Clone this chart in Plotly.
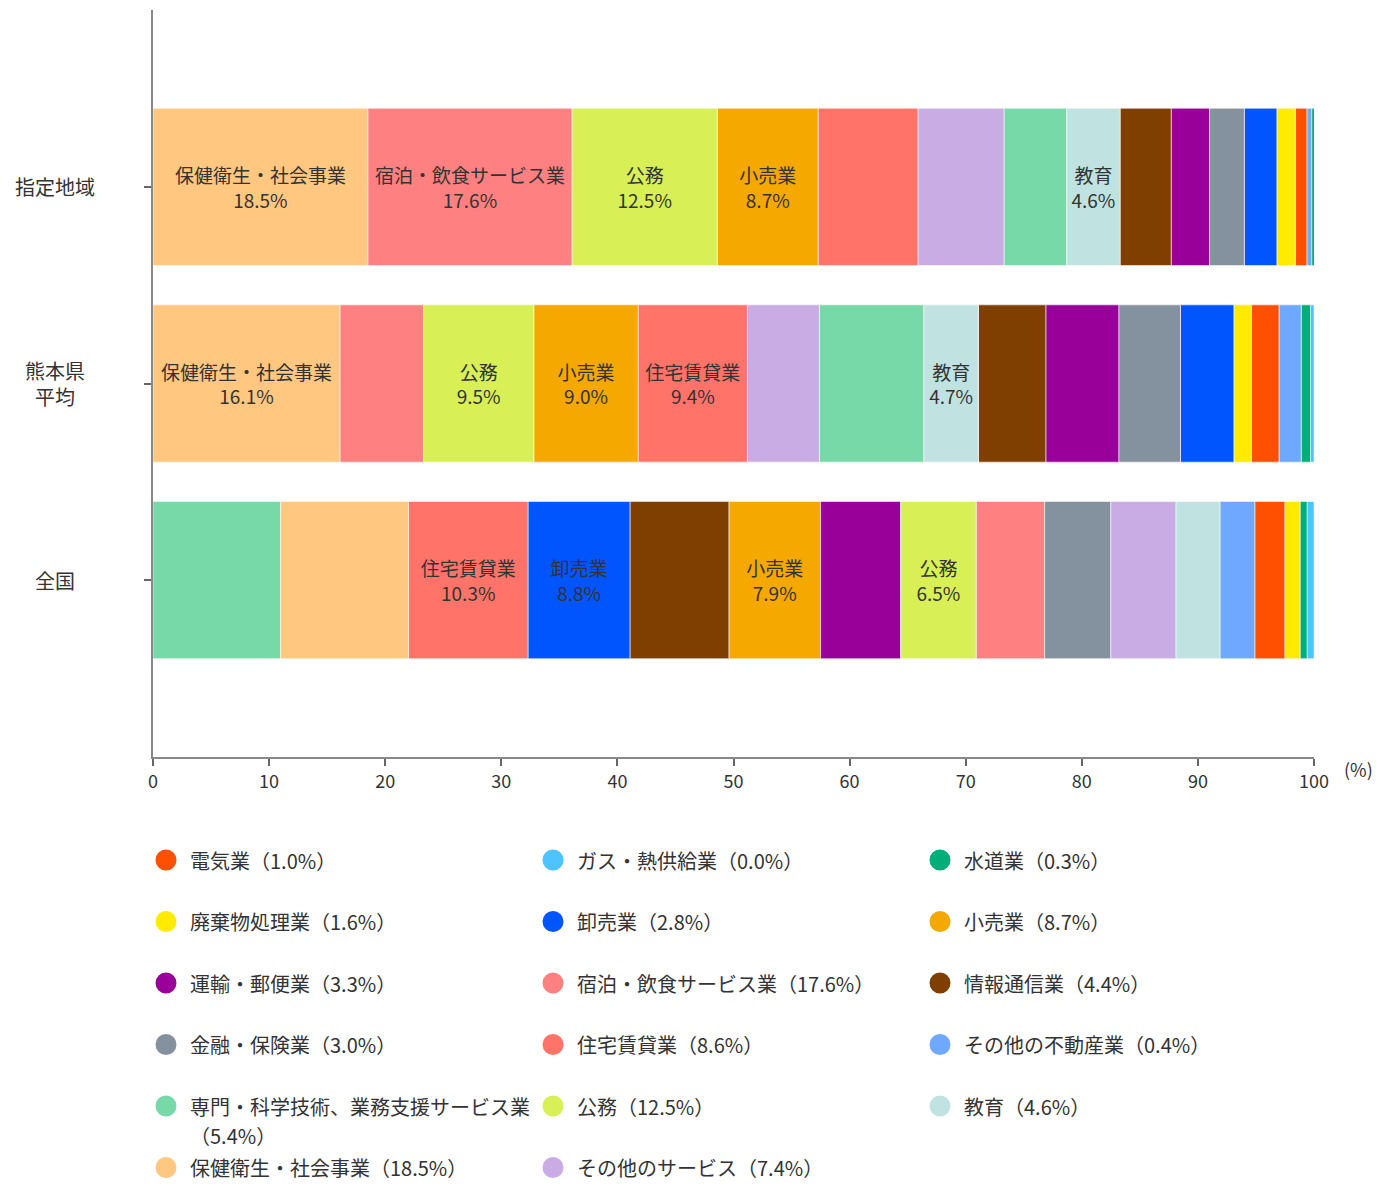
import plotly.graph_objects as go

# ---------------- data ----------------
rows = ["指定地域", "熊本県平均", "全国"]
row_labels = ["指定地域", "熊本県<br>平均", "全国"]

industries = [
    "電気業", "ガス・熱供給業", "水道業",
    "廃棄物処理業", "卸売業", "小売業",
    "運輸・郵便業", "宿泊・飲食サービス業", "情報通信業",
    "金融・保険業", "住宅賃貸業", "その他の不動産業",
    "専門・科学技術、業務支援サービス業", "公務", "教育",
    "保健衛生・社会事業", "その他のサービス",
]
colors = [
    "#ff4f00", "#4dc3ff", "#00ae78",
    "#ffea00", "#0055ff", "#f5a800",
    "#990099", "#ff8080", "#7f3f00",
    "#84919e", "#ff7369", "#6ea8ff",
    "#78d9a8", "#d8f055", "#c0e3e1",
    "#ffc77f", "#c9ace4",
]
shitei = [1.0, 0.0, 0.3, 1.6, 2.8, 8.7, 3.3, 17.6, 4.4, 3.0, 8.6, 0.4, 5.4, 12.5, 4.6, 18.5, 7.4]
kumamoto = [2.4, 0.3, 0.8, 1.5, 4.6, 9.0, 6.3, 7.2, 5.8, 5.3, 9.4, 1.9, 9.0, 9.5, 4.7, 16.1, 6.2]
zenkoku = [2.6, 0.6, 0.6, 1.3, 8.8, 7.9, 6.9, 5.9, 8.5, 5.7, 10.3, 3.0, 11.0, 6.5, 3.8, 11.0, 5.6]

# stacking order of segments in each bar
order_main = ["保健衛生・社会事業", "宿泊・飲食サービス業", "公務", "小売業", "住宅賃貸業",
              "その他のサービス", "専門・科学技術、業務支援サービス業", "教育", "情報通信業",
              "運輸・郵便業", "金融・保険業", "卸売業", "廃棄物処理業", "電気業",
              "その他の不動産業", "水道業", "ガス・熱供給業"]
order_zenkoku = ["専門・科学技術、業務支援サービス業", "保健衛生・社会事業", "住宅賃貸業", "卸売業",
                 "情報通信業", "小売業", "運輸・郵便業", "公務", "宿泊・飲食サービス業",
                 "金融・保険業", "その他のサービス", "教育", "その他の不動産業", "電気業",
                 "廃棄物処理業", "水道業", "ガス・熱供給業"]
orders = [order_main, order_main, order_zenkoku]

# segments that carry a text label in each bar
labeled = [
    ["保健衛生・社会事業", "宿泊・飲食サービス業", "公務", "小売業", "教育"],
    ["保健衛生・社会事業", "公務", "小売業", "住宅賃貸業", "教育"],
    ["住宅賃貸業", "卸売業", "小売業", "公務"],
]

x_ticks = [0, 10, 20, 30, 40, 50, 60, 70, 80, 90, 100]

# ---------------- figure ----------------
FONT = "Noto Sans CJK JP, Noto Sans, sans-serif"
TXT = "#333333"
values = [shitei, kumamoto, zenkoku]

# start position of each segment in each row
bases = []
for r in range(3):
    start = {}
    acc = 0.0
    for name in orders[r]:
        start[name] = acc
        acc += values[r][industries.index(name)]
    bases.append(start)

fig = go.Figure()
for i, name in enumerate(industries):
    xs = [values[r][i] for r in range(3)]
    bs = [bases[r][name] for r in range(3)]
    txt = [f"{name}<br>{values[r][i]:.1f}%" if name in labeled[r] else "" for r in range(3)]
    fig.add_trace(go.Bar(
        y=rows, x=xs, base=bs, orientation="h", width=0.8,
        marker=dict(color=colors[i], line=dict(color="rgba(255,255,255,0.55)", width=1)),
        text=txt, textposition="inside", insidetextanchor="middle", textangle=0,
        textfont=dict(family=FONT, size=19, color=TXT),
        constraintext="none",
        showlegend=False, name=name, hoverinfo="skip",
    ))

# legend entries (circle markers)
n_last_row = len(industries) - (len(industries) - 1) % 3 - 1
for i, name in enumerate(industries):
    label = f"{name}（{shitei[i]:.1f}%）"
    if name.startswith("専門"):
        txt = (f"<span style='font-size:20px'>{name}</span><br>"
               f"<span style='font-size:20px'>（{shitei[i]:.1f}%）</span>")
    elif i >= n_last_row:
        txt = f"<span style='font-size:20px'>{label}</span>"
    else:
        txt = f"<span style='font-size:20px'>{label}</span><br> "
    fig.add_trace(go.Scatter(
        x=[None], y=[None], mode="markers", name=txt,
        marker=dict(symbol="circle", size=26, color=colors[i],
                    line=dict(color=colors[i], width=5)),
        showlegend=True, hoverinfo="skip",
    ))

# y category labels (centered)
for r, lab in enumerate(row_labels):
    fig.add_annotation(x=-0.0844, xref="paper", y=rows[r], yref="y",
                       text=lab, showarrow=False, xanchor="center", yanchor="middle",
                       font=dict(family=FONT, size=20, color=TXT))

fig.add_annotation(x=1.024, xref="paper", y=-0.016, yref="paper", text="(%)",
                   showarrow=False, xanchor="left", yanchor="middle",
                   font=dict(family=FONT, size=18, color=TXT))

fig.update_layout(
    width=1372, height=1178,
    margin=dict(l=145, r=66, t=2, b=429, autoexpand=False),
    paper_bgcolor="white", plot_bgcolor="white",
    barmode="overlay",
    font=dict(family=FONT, size=18, color=TXT),
    xaxis=dict(range=[0, 100], tickvals=x_ticks, ticks="outside", ticklen=7,
               tickcolor="#666", tickwidth=1.5, showgrid=False, zeroline=False,
               showline=True, linecolor="#888", linewidth=2,
               tickfont=dict(family=FONT, size=18, color=TXT)),
    yaxis=dict(type="category", categoryarray=rows, categoryorder="array",
               range=[2.9, -0.9], showticklabels=False, ticks="outside", ticklen=7,
               tickcolor="#666", tickwidth=1.5, showgrid=False, zeroline=False,
               showline=True, linecolor="#888", linewidth=2),
    legend=dict(orientation="h", x=-0.00947, xanchor="left", y=-0.1096, yanchor="top",
                entrywidth=334, entrywidthmode="pixels", itemwidth=38,
                valign="top", traceorder="normal",
                font=dict(family=FONT, size=22.5, color=TXT),
                bgcolor="rgba(0,0,0,0)"),
    showlegend=True,
)

fig.write_html("out.html")
